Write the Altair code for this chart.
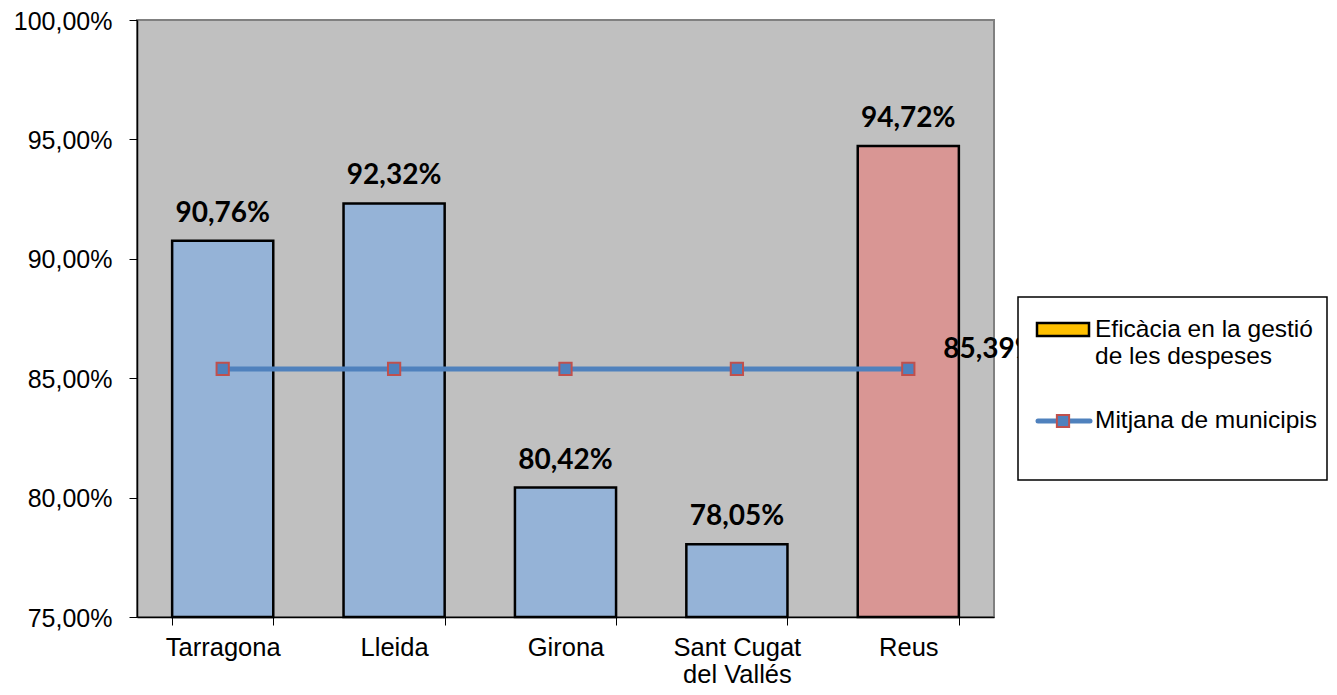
import altair as alt
import pandas as pd

cities = ["Tarragona", "Lleida", "Girona", "Sant Cugat del Vallés", "Reus"]
values = [90.76, 92.32, 80.42, 78.05, 94.72]
average = [85.39, 85.39, 85.39, 85.39, 85.39]
y_ticks = [75, 80, 85, 90, 95, 100]
legend_labels = ["Eficàcia en la gestió de les despeses", "Mitjana de municipis"]

df = pd.DataFrame({"city": cities, "value": values, "avg": average})

FONT = "Liberation Sans"
x_enc = alt.X(
    "city:N",
    sort=cities,
    scale=alt.Scale(paddingInner=0.41, paddingOuter=0.205),
    axis=alt.Axis(
        title=None, labelAngle=0, labelFont=FONT, labelFontSize=25.5, labelColor="black",
        labelExpr="datum.label == 'Sant Cugat del Vallés' ? ['Sant Cugat', 'del Vallés'] : datum.label",
        labelLineHeight=27, labelPadding=10, tickBand="extent", tickSize=8,
        tickColor="black", domainColor="black", domainWidth=1.5, labelLimit=300,
    ),
)
y_scale = alt.Scale(domain=[75, 100], nice=False, zero=False)
y_enc = alt.Y(
    "value:Q",
    scale=y_scale,
    axis=alt.Axis(
        title=None, values=y_ticks, grid=False, labelFont=FONT, labelFontSize=25,
        labelColor="black", tickSize=8, tickColor="black", domainColor="black",
        domainWidth=1.5, labelPadding=17, labelOffset=1,
        labelExpr="replace(format(datum.value, '.2f'), '.', ',') + '%'",
    ),
)

base = alt.Chart(df)

bars = base.mark_bar(stroke="black", strokeWidth=2.5).encode(
    x=x_enc,
    y=y_enc,
    y2=alt.datum(75),
    color=alt.condition("datum.city == 'Reus'", alt.value("#D99694"), alt.value("#95B3D7")),
)

bar_labels = base.transform_calculate(
    lbl="replace(format(datum.value, '.2f'), '.', ',') + '%'"
).mark_text(
    font="Lato", fontWeight="bold", fontSize=28, color="black", baseline="alphabetic", dy=-19
).encode(x=alt.X("city:N", sort=cities), y=alt.Y("value:Q", scale=y_scale), text="lbl:N")

line = base.mark_line(color="#4F81BD", strokeWidth=5).encode(
    x=alt.X("city:N", sort=cities), y=alt.Y("avg:Q", scale=y_scale)
)
points = base.mark_point(
    shape="square", size=150, filled=True, fill="#4F81BD", stroke="#C0504D", strokeWidth=2, opacity=1
).encode(x=alt.X("city:N", sort=cities), y=alt.Y("avg:Q", scale=y_scale))

avg_label = base.transform_filter("datum.city == 'Reus'").transform_calculate(
    lbl="replace(format(datum.avg, '.2f'), '.', ',') + '%'"
).mark_text(
    font="Lato", fontWeight="bold", fontSize=28, color="black", align="left", baseline="middle", dx=35, dy=-19
).encode(x=alt.X("city:N", sort=cities), y=alt.Y("avg:Q", scale=y_scale), text="lbl:N")

leg = alt.Chart(alt.Data(values=[{}]))
leg_box = leg.mark_rect(fill="white", stroke="black", strokeWidth=1.5).encode(
    x=alt.value(881), x2=alt.value(1190), y=alt.value(277), y2=alt.value(460)
)
leg_sw1 = leg.mark_rect(fill="#FFC000", stroke="black", strokeWidth=2.5).encode(
    x=alt.value(900), x2=alt.value(952), y=alt.value(303), y2=alt.value(316)
)
leg_t1 = leg.mark_text(
    font=FONT, fontSize=24.5, align="left", baseline="middle", color="black", lineHeight=27
).encode(
    x=alt.value(958), y=alt.value(310),
    text=alt.value(["Eficàcia en la gestió", "de les despeses"]),
)
leg_line = leg.mark_rule(color="#4F81BD", strokeWidth=5, strokeCap="round").encode(
    x=alt.value(901), x2=alt.value(953), y=alt.value(401)
)
leg_pt = leg.mark_point(
    shape="square", size=150, filled=True, fill="#4F81BD", stroke="#C0504D", strokeWidth=2, opacity=1
).encode(x=alt.value(926), y=alt.value(401))
leg_t2 = leg.mark_text(
    font=FONT, fontSize=24.5, align="left", baseline="middle", color="black"
).encode(x=alt.value(958), y=alt.value(401), text=alt.value(legend_labels[1]))

chart = alt.layer(
    bars, bar_labels, line, points, avg_label,
    leg_box, leg_sw1, leg_t1, leg_line, leg_pt, leg_t2,
).properties(
    width=857, height=597,
    autosize=alt.AutoSizeParams(type="none"),
    padding={"left": 129, "top": 12, "right": 335, "bottom": 70},
    background="white",
).configure_view(
    fill="#C0C0C0", stroke="#808080", strokeWidth=2
)

chart.save("out.html", embed_options={"renderer": "svg", "actions": False})
